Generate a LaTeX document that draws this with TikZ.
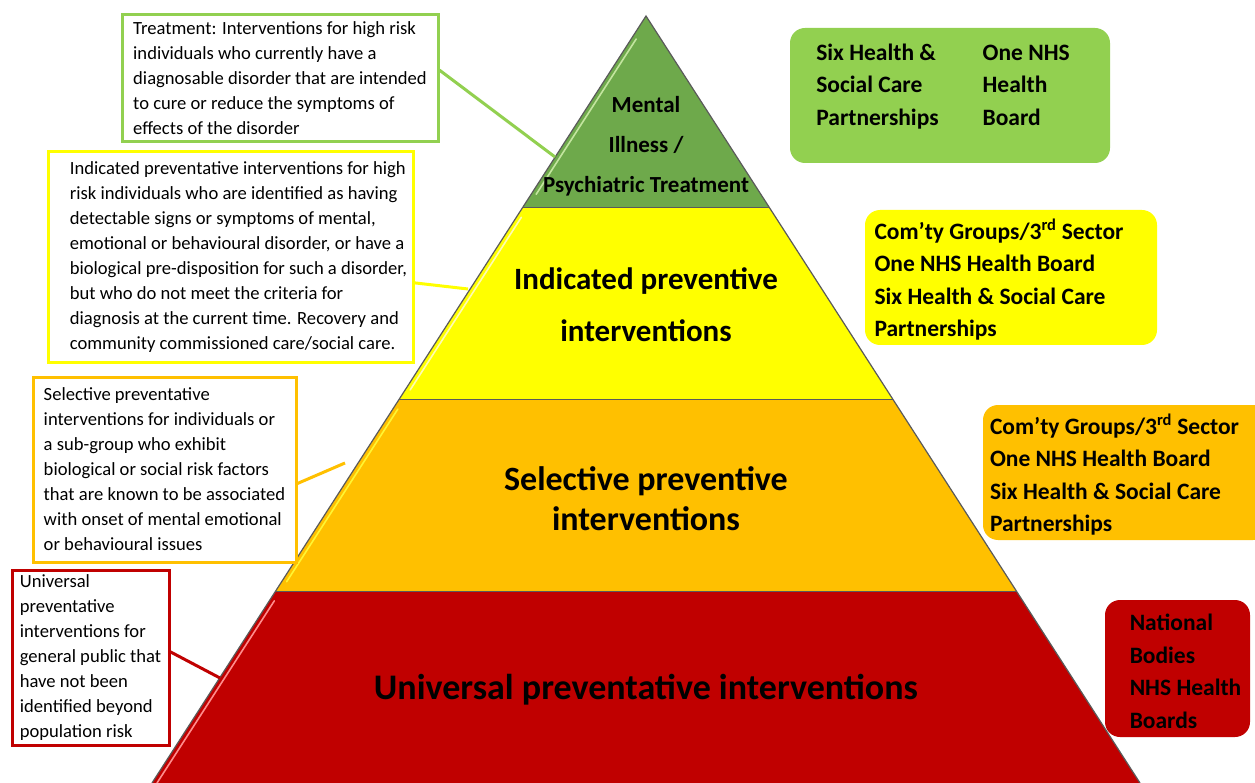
\documentclass[tikz,border=0pt]{standalone}
\usepackage{fontspec}
\setmainfont{Carlito}
\usetikzlibrary{calc}

\definecolor{tiergreen}{HTML}{6EA94B}
\definecolor{lightgreen}{HTML}{92D050}
\definecolor{tieryellow}{HTML}{FFFF00}
\definecolor{tierorange}{HTML}{FFC000}
\definecolor{tierred}{HTML}{C00000}
\definecolor{edgegrey}{HTML}{5A5A5A}

\begin{document}
\begin{tikzpicture}[x=1pt, y=-1pt,
    tier/.style = {draw=edgegrey, line width=1.2pt},
    shine/.style = {line width=1.6pt, line cap=round},
    note/.style = {draw, line width=3pt, fill=white, align=left, inner ysep=0pt,
                   font=\fontsize{18.6}{25}\selectfont},
    who/.style = {rounded corners=15pt, align=left, inner ysep=0pt,
                  font=\bfseries\fontsize{23.5}{32.5}\selectfont},
    level/.style = {align=center, inner sep=0pt},
    link/.style = {line width=3pt}]
    \useasboundingbox (0,0) rectangle (1255,783);
    \fill[white] (0,0) rectangle (1255,783);
    \clip (0,0) rectangle (1255,783);

    % pyramid
    \coordinate (apex) at (646,16);
    \coordinate (bl) at (152,783);
    \coordinate (br) at (1140,783);
    \coordinate (l1) at ($(apex)!0.25!(bl)$);
    \coordinate (r1) at ($(apex)!0.25!(br)$);
    \coordinate (l2) at ($(apex)!0.5!(bl)$);
    \coordinate (r2) at ($(apex)!0.5!(br)$);
    \coordinate (l3) at ($(apex)!0.75!(bl)$);
    \coordinate (r3) at ($(apex)!0.75!(br)$);

    \fill[tiergreen] (apex) -- (r1) -- (l1) -- cycle;
    \fill[tieryellow] (l1) -- (r1) -- (r2) -- (l2) -- cycle;
    \fill[tierorange] (l2) -- (r2) -- (r3) -- (l3) -- cycle;
    \fill[tierred] (l3) -- (r3) -- (br) -- (bl) -- cycle;

    \draw[shine, lightgreen!55!white] ($(apex)!0.12!(l1)+(5,0)$) -- ($(apex)!0.93!(l1)+(5,0)$);
    \draw[shine, yellow!30!white] ($(l1)!0.05!(l2)+(5,0)$) -- ($(l1)!0.95!(l2)+(5,0)$);
    \draw[shine, yellow!80!white] ($(l2)!0.05!(l3)+(5,0)$) -- ($(l2)!0.95!(l3)+(5,0)$);
    \draw[shine, red!45!white] ($(l3)!0.05!(bl)+(5,0)$) -- ($(l3)!1!(bl)+(5,0)$);

    \draw[tier] (bl) -- (apex) -- (br);
    \draw[tier] (l1) -- (r1);
    \draw[tier] (l2) -- (r2);
    \draw[tier] (l3) -- (r3);

    \node[level, font=\bfseries\fontsize{23}{40}\selectfont] (mental) at (646,146)
        {Mental\\Illness /\\Psychiatric Treatment};
    \node[level, font=\bfseries\fontsize{31}{52}\selectfont] (indicated) at (646,305)
        {Indicated preventive\\interventions};
    \node[level, font=\bfseries\fontsize{34}{40}\selectfont] (selective) at (646,499)
        {Selective preventive\\interventions};
    \node[level, font=\bfseries\fontsize{36}{40}\selectfont] (universal) at (646,690)
        {Universal preventative interventions};

    % left notes
    \node[note, draw=lightgreen, minimum width=316pt, minimum height=127pt] (treat) at (280,78.5)
        {Treatment: Interventions for high risk\\
         individuals who currently have a\\
         diagnosable disorder that are intended\\
         to cure or reduce the symptoms of\\
         effects of the disorder};
    \node[note, draw=tieryellow, minimum width=365pt, minimum height=210pt] (indnote) at (230.5,257)
        {\begin{tabular}{@{\hspace{16pt}}l@{}}
         Indicated preventative interventions for high\\
         risk individuals who are identified as having\\
         detectable signs or symptoms of mental,\\
         emotional or behavioural disorder, or have a\\
         biological pre-disposition for such a disorder,\\
         but who do not meet the criteria for\\
         diagnosis at the current time. Recovery and\\
         community commissioned care/social care.
         \end{tabular}};
    \node[note, draw=tierorange, minimum width=263pt, minimum height=185pt] (selnote) at (164.5,469.5)
        {Selective preventative\\
         interventions for individuals or\\
         a sub-group who exhibit\\
         biological or social risk factors\\
         that are known to be associated\\
         with onset of mental emotional\\
         or behavioural issues};
    \node[note, draw=tierred, minimum width=157pt, minimum height=175pt] (uninote) at (90.5,657.5)
        {Universal\\
         preventative\\
         interventions for\\
         general public that\\
         have not been\\
         identified beyond\\
         population risk};

    \coordinate (treatend) at (555,157);
    \coordinate (indend) at (468,289);
    \coordinate (selend) at (345,463);
    \coordinate (uniend) at (220,678);

    \path[link, draw=lightgreen] (treat.3) edge (treatend);
    \path[link, draw=tieryellow] (indnote.-8) edge (indend);
    \path[link, draw=tierorange] (selnote.-6) edge (selend);
    \path[link, draw=tierred] (uninote.4) edge (uniend);

    % who delivers
    \node[who, fill=lightgreen, minimum width=320pt, minimum height=135pt] (greenorg) at (950,95.5)
        {\begin{tabular}{@{}l@{\hspace{44pt}}l@{\hspace{14pt}}}
         Six Health \& & One NHS\\
         Social Care & Health\\
         Partnerships & Board\\[18pt]
         \end{tabular}};
    \node[who, fill=tieryellow, minimum width=292pt, minimum height=135pt] (yelloworg) at (1011,277.5)
        {\begin{tabular}{@{}l@{\hspace{24pt}}}
         Com’ty Groups/3\textsuperscript{rd} Sector\\
         One NHS Health Board\\
         Six Health \& Social Care\\
         Partnerships\\[-8pt]
         \end{tabular}};
    \node[who, fill=tierorange, minimum width=285pt, minimum height=135pt] (orangeorg) at (1125.5,472.5)
        {\begin{tabular}{@{}l@{\hspace{22pt}}}
         Com’ty Groups/3\textsuperscript{rd} Sector\\
         One NHS Health Board\\
         Six Health \& Social Care\\
         Partnerships\\[-8pt]
         \end{tabular}};
    \node[who, fill=tierred, minimum width=145pt, minimum height=137pt] (redorg) at (1177.5,668.5)
        {\begin{tabular}{@{\hspace{16pt}}l@{}}
         National\\
         Bodies\\
         NHS Health\\
         Boards\\[-9pt]
         \end{tabular}};
\end{tikzpicture}
\end{document}
